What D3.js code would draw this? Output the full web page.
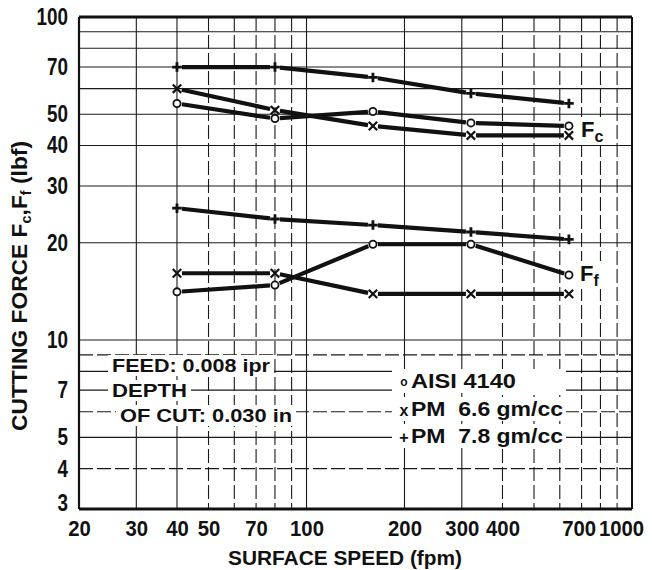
<!DOCTYPE html>
<html>
<head>
<meta charset="utf-8">
<script src="https://cdn.jsdelivr.net/npm/d3@7"></script>
<style>
  html, body { margin: 0; padding: 0; background: #fff; }
  svg { display: block; }
  text { font-family: "Liberation Sans", Arial, sans-serif; fill: #111; white-space: pre; }
</style>
</head>
<body>
<svg id="chart" width="652" height="570"></svg>
<script>
// ---- data ----
const speeds = [40, 80, 160, 320, 640];
const fcAisi = [54, 48.5, 51, 47, 46];
const fcPm66 = [60, 51.5, 46, 43, 43];
const fcPm78 = [70, 70, 65, 58, 54];
const ffAisi = [14.1, 14.8, 19.8, 19.8, 15.9];
const ffPm66 = [16.1, 16.1, 13.9, 13.9, 13.9];
const ffPm78 = [25.6, 23.7, 22.7, 21.6, 20.5];
const xTickValues = [20, 30, 40, 50, 70, 100, 200, 300, 400, 700, 1000];
const yTickValues = [3, 4, 5, 7, 10, 20, 30, 40, 50, 70, 100];
const xGridValues = [30, 40, 50, 60, 70, 80, 90, 100, 200, 300, 400, 500, 600, 700, 800, 900];
const yGridValues = [4, 5, 6, 7, 8, 9, 10, 20, 30, 40, 50, 60, 70, 80, 90];
const legendNotes = ["FEED: 0.008 ipr", "DEPTH", "OF CUT: 0.030 in"];
const legendSeries = [
  {sym: "o", label: "AISI 4140"},
  {sym: "x", label: "PM  6.6 gm/cc"},
  {sym: "+", label: "PM  7.8 gm/cc"}
];

const series = [
  {vals: fcPm78, sym: "+"}, {vals: fcPm66, sym: "x"}, {vals: fcAisi, sym: "o"},
  {vals: ffPm78, sym: "+"}, {vals: ffPm66, sym: "x"}, {vals: ffAisi, sym: "o"}
];

const svg = d3.select("#chart");
const L = 79, R = 632, T = 17, B = 509;
const x = d3.scaleLog().domain([20, 1000]).range([L, R]);
const y = d3.scaleLog().domain([3, 100]).range([B, T]);

// ---- grid ----
const grid = svg.append("g");
grid.selectAll("line.v").data(xGridValues).join("line")
  .attr("x1", d => x(d)).attr("x2", d => x(d)).attr("y1", T).attr("y2", B)
  .attr("stroke", "#1a1a1a")
  .attr("stroke-width", 1.1)
  .attr("stroke-dasharray", d => [30, 40, 100, 200, 300].includes(d) ? null : "14,4");
grid.selectAll("line.h").data(yGridValues).join("line")
  .attr("x1", L).attr("x2", R).attr("y1", d => y(d)).attr("y2", d => y(d))
  .attr("stroke", "#1a1a1a")
  .attr("stroke-width", 1.1)
  .attr("stroke-dasharray", d => [4, 6, 9].includes(d) ? "14,4" : null);

// ---- frame ----
svg.append("line").attr("x1", L).attr("x2", R).attr("y1", T).attr("y2", T).attr("stroke", "#111").attr("stroke-width", 3);
svg.append("line").attr("x1", L).attr("x2", R).attr("y1", B).attr("y2", B).attr("stroke", "#111").attr("stroke-width", 3);
svg.append("line").attr("x1", L).attr("x2", L).attr("y1", T).attr("y2", B).attr("stroke", "#111").attr("stroke-width", 2.2);
svg.append("line").attr("x1", R).attr("x2", R).attr("y1", T).attr("y2", B).attr("stroke", "#111").attr("stroke-width", 2);

// ---- axes ----
const xAxis = svg.append("g").attr("transform", `translate(0,${B})`)
  .call(d3.axisBottom(x).tickValues(xTickValues).tickFormat(d3.format("d")).tickSize(0).tickPadding(11));
xAxis.select(".domain").remove();
xAxis.selectAll("text")
  .style("font-family", "'Liberation Sans', Arial, sans-serif")
  .style("font-weight", "bold").style("font-size", "22px").attr("fill", "#111")
  .attr("dx", d => d === 1000 ? -11 : (d === 700 ? -3 : 0))
  .attr("textLength", d => String(d).length * 11.3)
  .attr("lengthAdjust", "spacingAndGlyphs");

const yAxis = svg.append("g").attr("transform", `translate(${L},0)`)
  .call(d3.axisLeft(y).tickValues(yTickValues).tickFormat(d3.format("d")).tickSize(0).tickPadding(11));
yAxis.select(".domain").remove();
yAxis.selectAll("text")
  .style("font-family", "'Liberation Sans', Arial, sans-serif")
  .style("font-weight", "bold").style("font-size", "23px").attr("fill", "#111")
  .attr("textLength", d => String(d).length * 10.5)
  .attr("lengthAdjust", "spacingAndGlyphs");
yAxis.selectAll(".tick").filter(d => d === 3).select("text").attr("dy", "0.05em");

// ---- axis titles ----
svg.append("text").attr("x", 345).attr("y", 565).attr("text-anchor", "middle")
  .style("font-weight", "bold").style("font-size", "21px")
  .attr("textLength", 234).attr("lengthAdjust", "spacingAndGlyphs")
  .text("SURFACE SPEED (fpm)");

const yt = svg.append("text").attr("transform", "translate(27,286) rotate(-90)")
  .attr("text-anchor", "middle").style("font-weight", "bold").style("font-size", "22px")
  .attr("textLength", 290).attr("lengthAdjust", "spacingAndGlyphs");
yt.append("tspan").text("CUTTING FORCE F");
yt.append("tspan").attr("dy", 4).style("font-size", "14px").text("c");
yt.append("tspan").attr("dy", -4).text(",F");
yt.append("tspan").attr("dy", 4).style("font-size", "14px").text("f");
yt.append("tspan").attr("dy", -4).text(" (lbf)");

// ---- series lines (shortened near markers) ----
const lineG = svg.append("g");
const gap = 5;
series.forEach(s => {
  const pts = speeds.map((v, i) => [x(v), y(s.vals[i])]);
  for (let i = 0; i < pts.length - 1; i++) {
    const [x1, y1] = pts[i], [x2, y2] = pts[i + 1];
    const len = Math.hypot(x2 - x1, y2 - y1);
    const ux = (x2 - x1) / len, uy = (y2 - y1) / len;
    lineG.append("line")
      .attr("x1", x1 + ux * gap).attr("y1", y1 + uy * gap)
      .attr("x2", x2 - ux * gap).attr("y2", y2 - uy * gap)
      .attr("stroke", "#111").attr("stroke-width", 4.2).attr("stroke-linecap", "butt");
  }
});

// ---- markers ----
function drawMarker(g, sym, cx, cy, s) {
  if (sym === "o") {
    g.append("circle").attr("cx", cx).attr("cy", cy).attr("r", 3.6 * s)
      .attr("fill", "#fff").attr("stroke", "#111").attr("stroke-width", 1.8);
  } else if (sym === "x") {
    const r = 4.2 * s;
    g.append("path").attr("d", `M${cx - r},${cy - r}L${cx + r},${cy + r}M${cx - r},${cy + r}L${cx + r},${cy - r}`)
      .attr("stroke", "#111").attr("stroke-width", 2.2).attr("fill", "none");
  } else {
    const r = 4.8 * s;
    g.append("path").attr("d", `M${cx - r},${cy}L${cx + r},${cy}M${cx},${cy - r}L${cx},${cy + r}`)
      .attr("stroke", "#111").attr("stroke-width", 2.8).attr("fill", "none");
  }
}
const markG = svg.append("g");
series.forEach(s => {
  speeds.forEach((v, i) => drawMarker(markG, s.sym, x(v), y(s.vals[i]), 1));
});

// ---- curve labels Fc / Ff ----
function curveLabel(px, py, sub) {
  svg.append("rect").attr("x", px - 2).attr("y", py - 20).attr("width", 24).attr("height", 28).attr("fill", "#fff");
  const t = svg.append("text").attr("x", px).attr("y", py).style("font-weight", "bold").style("font-size", "22px");
  t.append("tspan").text("F");
  t.append("tspan").attr("dy", 5).style("font-size", "16px").text(sub);
}
curveLabel(581, 137, "c");
curveLabel(580, 281, "f");

// ---- left notes ----
const noteX = [112, 112, 120], noteY = [372, 397, 422], noteW = [158, 75, 172];
legendNotes.forEach((t, i) => {
  svg.append("rect").attr("x", noteX[i] - 4).attr("y", noteY[i] - 17).attr("width", noteW[i] + 8).attr("height", 21).attr("fill", "#fff");
});
legendNotes.forEach((t, i) => {
  svg.append("text").attr("x", noteX[i]).attr("y", noteY[i])
    .style("font-weight", "bold").style("font-size", "19px")
    .attr("textLength", noteW[i]).attr("lengthAdjust", "spacingAndGlyphs")
    .text(t);
});

// ---- right legend ----
const legY = [388, 416, 443];
const legW = [105, 152, 152];
legendSeries.forEach((d, i) => {
  svg.append("rect").attr("x", 392).attr("y", legY[i] - 19).attr("width", 174).attr("height", 24).attr("fill", "#fff");
});
legendSeries.forEach((d, i) => {
  svg.append("text").attr("x", 404).attr("y", legY[i] - (d.sym === "o" ? 2 : 0))
    .attr("text-anchor", "middle")
    .style("font-size", d.sym === "o" ? "12px" : "16px").style("font-weight", "bold")
    .text(d.sym);
  svg.append("text").attr("x", 411).attr("y", legY[i])
    .style("font-size", "21px").style("font-weight", "bold")
    .attr("textLength", legW[i]).attr("lengthAdjust", "spacingAndGlyphs")
    .text(d.label);
});
</script>
</body>
</html>
